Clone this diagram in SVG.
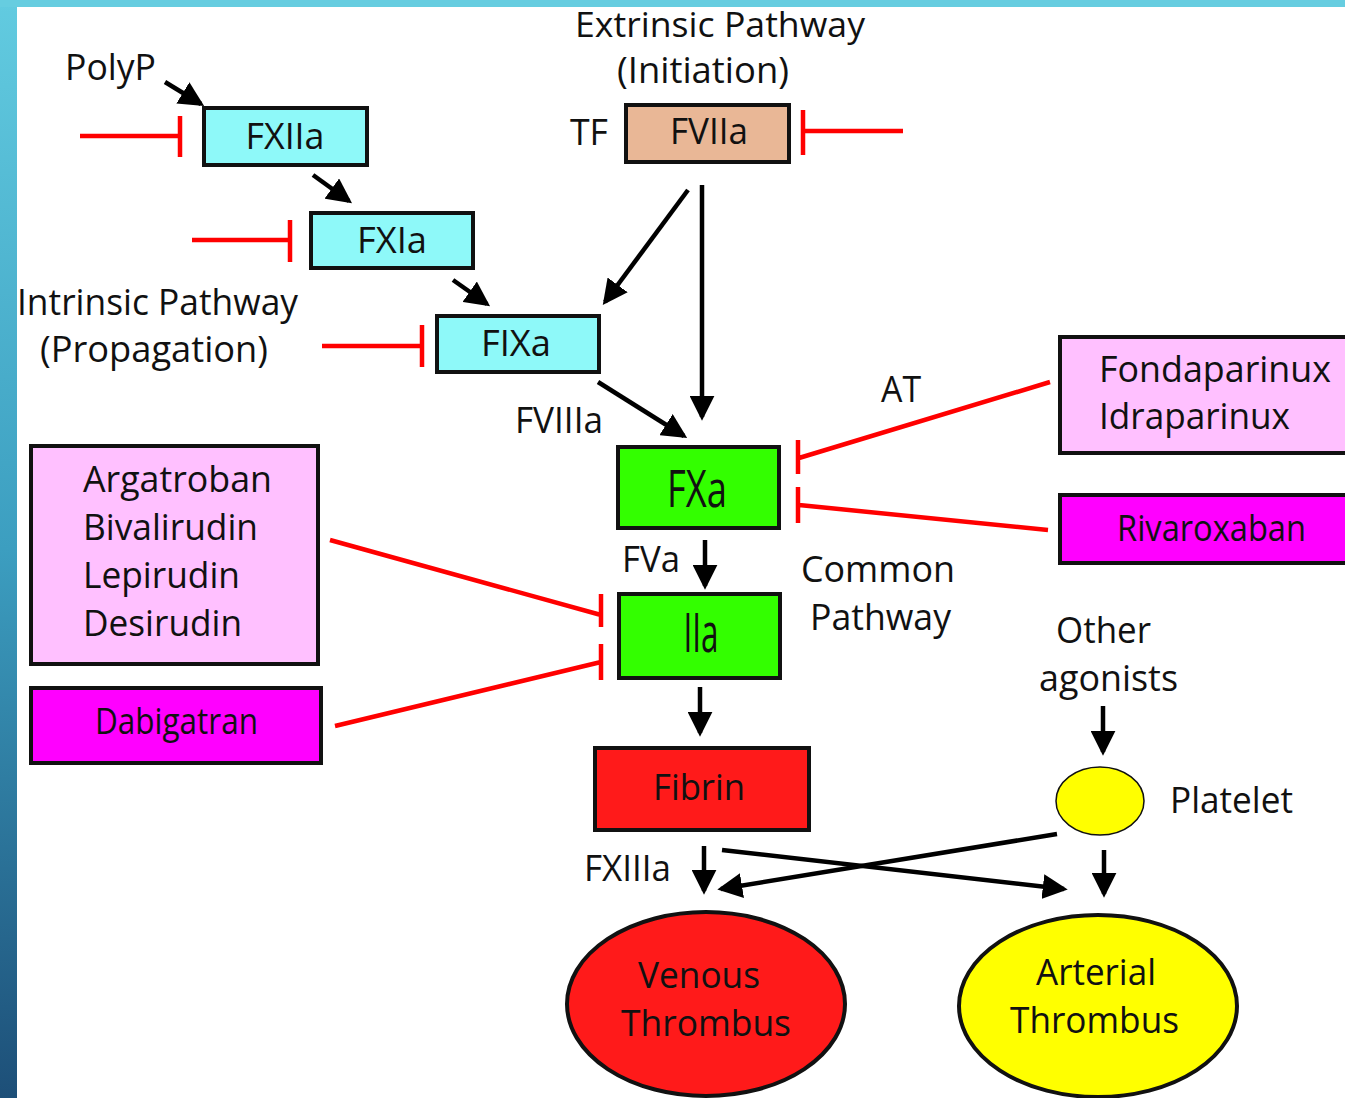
<svg xmlns="http://www.w3.org/2000/svg" width="1345" height="1098" viewBox="0 0 1345 1098">
<defs>
<linearGradient id="sideg" x1="0" y1="0" x2="0" y2="1">
<stop offset="0" stop-color="#62cbe0"/>
<stop offset="0.5" stop-color="#3c9ec0"/>
<stop offset="1" stop-color="#1d4f78"/>
</linearGradient>
<marker id="ah" viewBox="0 0 20 20" refX="17" refY="10" markerWidth="25" markerHeight="25" markerUnits="userSpaceOnUse" orient="auto">
<path d="M0,0 L20,10 L0,20 z" fill="#000"/>
</marker>
<style>
text{font-family:"Open Sans","Noto Sans","DejaVu Sans",sans-serif;fill:#111;font-size:37px}
.box{stroke:#111;stroke-width:4}
.cyan{fill:#8ef9f9}
.tan{fill:#e9b796}
.green{fill:#33ff00}
.pink{fill:#ffc0ff}
.mag{fill:#ff00ff}
.red{fill:#ff1a1a}
.yel{fill:#ffff00}
.arr{stroke:#000;stroke-width:4.5;fill:none;marker-end:url(#ah)}
.inh{stroke:#ff0000;stroke-width:4.5;fill:none}
.mid{text-anchor:middle}
</style>
</defs>
<rect x="0" y="0" width="1345" height="1098" fill="#ffffff"/>
<rect x="0" y="0" width="17" height="1098" fill="url(#sideg)"/>
<rect x="0" y="0" width="1345" height="7" fill="#66cde0"/>

<g id="labels">
<text x="65" y="80" textLength="91" lengthAdjust="spacingAndGlyphs">PolyP</text>
<text x="575" y="37" style="font-size:34px" textLength="290" lengthAdjust="spacingAndGlyphs">Extrinsic Pathway</text>
<text x="617" y="83" textLength="172" lengthAdjust="spacingAndGlyphs">(Initiation)</text>
<text x="570" y="145" textLength="38" lengthAdjust="spacingAndGlyphs">TF</text>
<text x="17" y="315" textLength="281" lengthAdjust="spacingAndGlyphs">Intrinsic Pathway</text>
<text x="40" y="362" textLength="228" lengthAdjust="spacingAndGlyphs">(Propagation)</text>
<text x="515" y="433" textLength="88" lengthAdjust="spacingAndGlyphs">FVIIIa</text>
<text x="881" y="402" textLength="40" lengthAdjust="spacingAndGlyphs">AT</text>
<text x="622" y="572" textLength="58" lengthAdjust="spacingAndGlyphs">FVa</text>
<text x="801" y="582" textLength="154" lengthAdjust="spacingAndGlyphs">Common</text>
<text x="810" y="630" textLength="141" lengthAdjust="spacingAndGlyphs">Pathway</text>
<text x="1056" y="643" textLength="95" lengthAdjust="spacingAndGlyphs">Other</text>
<text x="1039" y="691" textLength="139" lengthAdjust="spacingAndGlyphs">agonists</text>
<text x="1170" y="813" textLength="123" lengthAdjust="spacingAndGlyphs">Platelet</text>
<text x="584" y="881" textLength="87" lengthAdjust="spacingAndGlyphs">FXIIIa</text>
</g>

<g id="connectors">
<line class="arr" x1="165" y1="82" x2="201" y2="104"/>
<line class="arr" x1="313" y1="175" x2="349" y2="201"/>
<line class="arr" x1="453" y1="280" x2="487" y2="304"/>
<line class="arr" x1="688" y1="190" x2="605" y2="302"/>
<line class="arr" x1="702" y1="185" x2="702" y2="417"/>
<line class="arr" x1="598" y1="382" x2="684" y2="436"/>
<line class="arr" x1="705" y1="540" x2="705" y2="586"/>
<line class="arr" x1="700" y1="687" x2="700" y2="733"/>
<line class="arr" x1="1103" y1="706" x2="1103" y2="752"/>
<line class="arr" x1="704" y1="846" x2="704" y2="891"/>
<line class="arr" x1="722" y1="850" x2="1064" y2="889"/>
<line class="arr" x1="1057" y1="834" x2="721" y2="889"/>
<line class="arr" x1="1104" y1="850" x2="1104" y2="894"/>

<path class="inh" d="M80,136 H180 M180,116 V157"/>
<path class="inh" d="M192,240 H290 M290,220 V262"/>
<path class="inh" d="M322,346 H422 M422,325 V367"/>
<path class="inh" d="M903,131 H803 M803,110 V155"/>
<path class="inh" d="M1050,382 L799,458 M798,440 V474"/>
<path class="inh" d="M1048,530 L799,505 M798,487 V523"/>
<path class="inh" d="M330,540 L601,615 M601,594 V627"/>
<path class="inh" d="M335,726 L601,662 M601,644 V680"/>
</g>

<g id="FXIIa"><rect class="box cyan" x="204" y="108" width="163" height="57"/><text class="mid" x="285" y="149" textLength="79" lengthAdjust="spacingAndGlyphs">FXIIa</text></g>
<g id="FXIa"><rect class="box cyan" x="311" y="213" width="162" height="55"/><text class="mid" x="392" y="253" textLength="70" lengthAdjust="spacingAndGlyphs">FXIa</text></g>
<g id="FIXa"><rect class="box cyan" x="437" y="316" width="162" height="56"/><text class="mid" x="516" y="356" textLength="70" lengthAdjust="spacingAndGlyphs">FIXa</text></g>
<g id="FVIIa"><rect class="box tan" x="626" y="105" width="163" height="57"/><text class="mid" x="709" y="144" textLength="78" lengthAdjust="spacingAndGlyphs">FVIIa</text></g>
<g id="FXa"><rect class="box green" x="618" y="447" width="161" height="81"/><text class="mid" x="697" y="507" style="font-size:52px" textLength="60" lengthAdjust="spacingAndGlyphs">FXa</text></g>
<g id="IIa"><rect class="box green" x="619" y="594" width="161" height="84"/><text class="mid" x="701" y="652" style="font-size:54px" textLength="35" lengthAdjust="spacingAndGlyphs">IIa</text></g>
<g id="Fibrin"><rect class="box red" x="595" y="748" width="214" height="82"/><text class="mid" x="699" y="800" textLength="92" lengthAdjust="spacingAndGlyphs">Fibrin</text></g>
<g id="Fondaparinux"><rect class="box pink" x="1060" y="337" width="290" height="116"/><text x="1099" y="382" textLength="232" lengthAdjust="spacingAndGlyphs">Fondaparinux</text><text x="1099" y="429" textLength="191" lengthAdjust="spacingAndGlyphs">Idraparinux</text></g>
<g id="Rivaroxaban"><rect class="box mag" x="1060" y="495" width="290" height="68"/><text x="1117" y="541" textLength="189" lengthAdjust="spacingAndGlyphs">Rivaroxaban</text></g>
<g id="Argatroban"><rect class="box pink" x="31" y="446" width="287" height="218"/><text x="83" y="492" textLength="189" lengthAdjust="spacingAndGlyphs">Argatroban</text><text x="83" y="540" textLength="175" lengthAdjust="spacingAndGlyphs">Bivalirudin</text><text x="83" y="588" textLength="157" lengthAdjust="spacingAndGlyphs">Lepirudin</text><text x="83" y="636" textLength="159" lengthAdjust="spacingAndGlyphs">Desirudin</text></g>
<g id="Dabigatran"><rect class="box mag" x="31" y="688" width="290" height="75"/><text x="95" y="734" textLength="163" lengthAdjust="spacingAndGlyphs">Dabigatran</text></g>
<g id="Platelet"><ellipse cx="1100" cy="801" rx="44" ry="34" fill="#ffff00" stroke="#111" stroke-width="1.5"/></g>
<g id="Venous"><ellipse class="box red" cx="706" cy="1004" rx="139" ry="92"/><text x="638" y="988" textLength="122" lengthAdjust="spacingAndGlyphs">Venous</text><text x="621" y="1036" textLength="170" lengthAdjust="spacingAndGlyphs">Thrombus</text></g>
<g id="Arterial"><ellipse class="box yel" cx="1098" cy="1006" rx="139" ry="91"/><text x="1036" y="985" textLength="120" lengthAdjust="spacingAndGlyphs">Arterial</text><text x="1010" y="1033" textLength="169" lengthAdjust="spacingAndGlyphs">Thrombus</text></g>
</svg>
